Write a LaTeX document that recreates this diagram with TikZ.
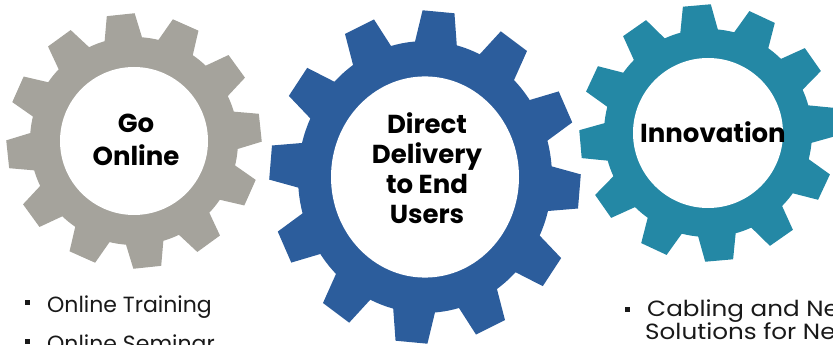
\documentclass[tikz,border=0pt]{standalone}
\usepackage{fontspec}
\setmainfont{Poppins}
\definecolor{geargray}{RGB}{165,163,156}
\definecolor{gearblue}{RGB}{44,93,156}
\definecolor{gearteal}{RGB}{36,136,165}
\definecolor{txt}{RGB}{25,25,25}
\newcommand\drawgear[9]{% cx cy phase tipr rootr innerr color yscale halftip
  \begin{scope}[shift={(#1,#2)},yscale=#8]
    \fill[#7] (0,0) circle[radius=#5];
    \foreach \a in {0,30,...,330}{
      \fill[#7,rotate=\a+#3] (#5-8,-#9-6) -- (#4,-#9) -- (#4,#9) -- (#5-8,#9+6) -- cycle;
    }
    \fill[white] (0,0) circle[radius=#6];
  \end{scope}}
\tikzset{
  gearlabel/.style={font=\bfseries\fontsize{26}{33}\selectfont, text=black, align=center, inner sep=0pt},
  bullettext/.style={font=\fontsize{22}{26}\selectfont, text=txt, anchor=base west, inner sep=0pt},
  widetext/.style={bullettext, xscale=1.12, transform shape},
  bulletmark/.style={fill=txt, minimum size=5pt, inner sep=0pt},
}
\begin{document}
\begin{tikzpicture}[x=1pt,y=1pt]
\useasboundingbox (0,0) rectangle (833,345);
\clip (0,0) rectangle (833,345);
\drawgear{134}{204}{6}{127}{104}{74}{geargray}{1}{14}
\drawgear{425}{168}{25}{155}{127}{94}{gearblue}{1.07}{16}
\drawgear{708}{212}{5}{128}{104}{75}{gearteal}{1}{14}
\node[gearlabel, anchor=base] (go) at (136,179) {Go\\Online};
\node[gearlabel, font=\bfseries\fontsize{26}{30}\selectfont, anchor=base] (dd) at (427,121) {Direct\\Delivery\\to End\\Users};
\node[gearlabel, anchor=base] (inn) at (713,202) {Innovation};
\node[bulletmark] (b1) at (27.5,42) {};
\node[bullettext] (t1) at (47,32) {Online Training};
\node[bulletmark] (b2) at (27.5,3) {};
\node[bullettext] (t2) at (47,-7) {Online Seminar};
\node[bulletmark] (b3) at (627.5,35) {};
\node[widetext] (t3) at (647,28) {Cabling and Ne};
\node[widetext] (t4) at (645,5) {Solutions for New};
\end{tikzpicture}
\end{document}
